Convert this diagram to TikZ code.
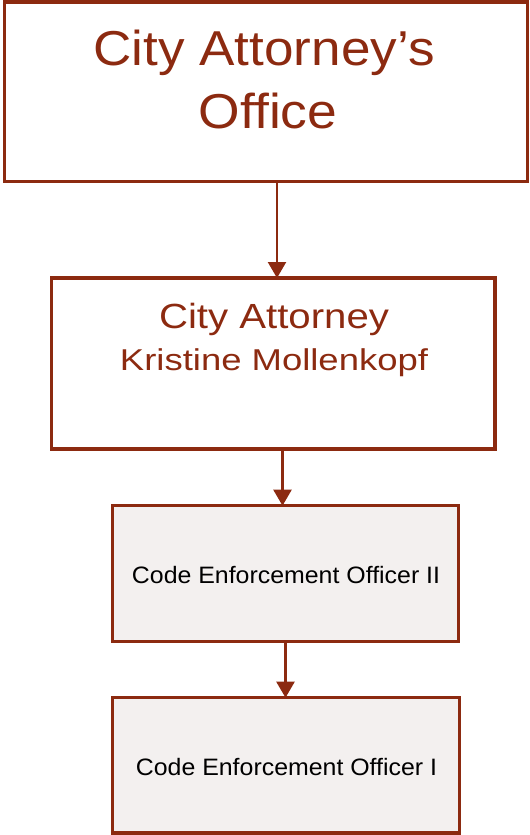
\documentclass[tikz,border=0pt]{standalone}
\usepackage{graphicx}
\usepackage{fontspec}
\setmainfont{Liberation Sans}
\usetikzlibrary{arrows.meta}
\definecolor{rust}{RGB}{140,42,16}
\definecolor{paper}{RGB}{243,240,239}
% horizontally widened text
\newcommand{\widen}[2]{\scalebox{#1}[1]{#2}}
\newcommand{\fs}[1]{\fontsize{#1}{1.2\dimexpr#1\relax}\selectfont}

\begin{document}
\begin{tikzpicture}[x=0.75pt,y=-0.75pt,
  orgbox/.style={draw=rust, line width=2.4pt, inner sep=0pt, outer sep=0pt, rectangle},
  staffbox/.style={orgbox, fill=paper},
  link/.style={draw=rust, line width=1.7pt, -{Triangle[width=13.5pt,length=12pt]}},
  txt/.style={anchor=base, inner sep=0pt, outer sep=0pt}]
\useasboundingbox (0,0) rectangle (530,835);

% boxes
\node[orgbox, minimum width=523*0.75pt, minimum height=179.5*0.75pt] (office) at (266,91.75) {};
\node[orgbox, minimum width=443.3*0.75pt, minimum height=171*0.75pt] (attorney) at (273.35,363.5) {};
\node[staffbox, minimum width=346*0.75pt, minimum height=136*0.75pt] (ceo2) at (285.3,573.7) {};
\node[staffbox, minimum width=346.6*0.75pt, minimum height=135.3*0.75pt] (ceo1) at (286,765.35) {};

% labels
\node[txt, text=rust] (t1) at (264,65) {\fs{36.75pt}\widen{1.083}{City Attorney’s}};
\node[txt, text=rust] (t2) at (268,128) {\fs{36.75pt}\widen{1.09}{Office}};
\node[txt, text=rust] (t3) at (274,328) {\fs{26.2pt}\widen{1.15}{City Attorney}};
\node[txt, text=rust] (t4) at (274,370.5) {\fs{22.6pt}\widen{1.21}{Kristine Mollenkopf}};
\node[txt, text=black] (t5) at (286,583) {\fs{17.8pt}\widen{1.049}{Code Enforcement Officer II}};
\node[txt, text=black] (t6) at (286.5,775) {\fs{17.8pt}\widen{1.049}{Code Enforcement Officer I}};

% connectors
\coordinate (c1) at (277,0);
\coordinate (c2) at (282.5,0);
\coordinate (c3) at (285.5,0);
\draw[link] (office.south -| c1) -- (attorney.north -| c1);
\draw[link] (attorney.south -| c2) -- (ceo2.north -| c2);
\draw[link] (ceo2.south -| c3) -- (ceo1.north -| c3);
\end{tikzpicture}
\end{document}
